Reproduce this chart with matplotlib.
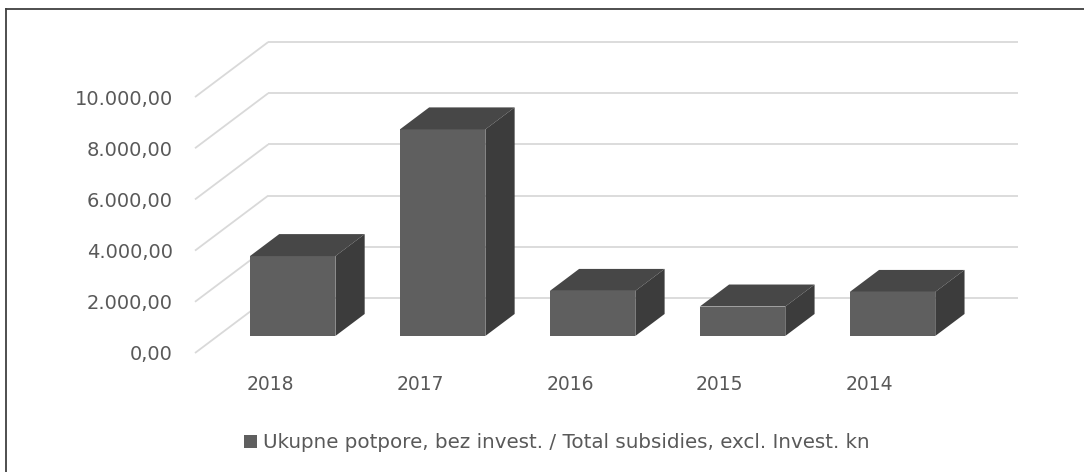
import numpy as np
import matplotlib
matplotlib.use('Agg')
import matplotlib.pyplot as plt
from matplotlib.patches import Polygon, Patch
from matplotlib.lines import Line2D

# dados do grafico
godine = ['2018', '2017', '2016', '2015', '2014']
potpore = [3120, 8070, 1760, 1150, 1720]
y_ticks = [0, 2000, 4000, 6000, 8000, 10000]
legenda = 'Ukupne potpore, bez invest. / Total subsidies, excl. Invest. kn'

# cores e "profundidade" do efeito 3d
cor_frente = '#5f5f5f'
cor_topo = '#474747'
cor_lado = '#3c3c3c'
cor_grid = '#d9d9d9'
cor_texto = '#595959'

DX = 0.488   # deslocamento da parede do fundo em categorias
DY = 2148    # deslocamento da parede do fundo em valores
d0, d1 = 0.31, 0.71   # posicao da barra dentro da profundidade
largura = 0.57

plt.rcParams['font.family'] = 'DejaVu Sans'


def fmt_hr(v):
    # 10000 -> 10.000,00
    s = f'{v:,.2f}'
    return s.replace(',', 'X').replace('.', ',').replace('X', '.')


def paredes(ax, n):
    # linhas do fundo e diagonais da parede lateral
    for v in y_ticks:
        ax.plot([-0.5, -0.5 + DX], [v, v + DY], color=cor_grid, lw=1.3, zorder=1,
                solid_capstyle='butt', clip_on=False)
        ax.plot([-0.5 + DX, n - 0.5 + DX], [v + DY, v + DY], color=cor_grid, lw=1.3,
                zorder=1, solid_capstyle='butt', clip_on=False)


def barras_3d(ax, x, valores):
    base = d0 * DY
    xf = x + d0 * DX
    ax.bar(xf, valores, width=largura, bottom=base, color=cor_frente, zorder=3)
    dd = d1 - d0
    for xi, v in zip(xf, valores):
        l = xi - largura / 2
        r = xi + largura / 2
        top = base + v
        topo = [(l, top), (r, top), (r + dd * DX, top + dd * DY), (l + dd * DX, top + dd * DY)]
        lado = [(r, base), (r, top), (r + dd * DX, top + dd * DY), (r + dd * DX, base + dd * DY)]
        ax.add_patch(Polygon(topo, closed=True, facecolor=cor_topo, edgecolor='none', zorder=3))
        ax.add_patch(Polygon(lado, closed=True, facecolor=cor_lado, edgecolor='none', zorder=3))


def main():
    fig = plt.figure(figsize=(10.84, 4.72), dpi=100)
    W, H = 1084, 472
    ax = fig.add_axes([195 / W, (H - 353) / H, (1018 - 195) / W, (353 - 42) / H])

    n = len(godine)
    x = np.arange(n)
    paredes(ax, n)
    barras_3d(ax, x, potpore)

    ax.set_xlim(-0.5, n - 0.5 + DX)
    ax.set_ylim(0, 12150)
    for s in ax.spines.values():
        s.set_visible(False)

    ax.set_yticks(y_ticks)
    ax.set_yticklabels([fmt_hr(v) for v in y_ticks])
    ax.set_xticks(x)
    ax.set_xticklabels(godine)
    ax.tick_params(axis='y', length=0, pad=16, labelsize=14, labelcolor=cor_texto)
    ax.tick_params(axis='x', length=0, pad=16, labelsize=13.5, labelcolor=cor_texto)

    fig.legend(handles=[Patch(facecolor=cor_frente, label=legenda)], loc='center left',
               bbox_to_anchor=(244 / W, 1 - 443 / H), frameon=False, fontsize=14.3,
               handlelength=0.66, handleheight=0.66, handletextpad=0.3,
               borderpad=0, borderaxespad=0, labelcolor=cor_texto)

    # moldura (so em cima e a esquerda)
    fig.add_artist(Line2D([6 / W, 1], [1 - 9 / H, 1 - 9 / H], color='#404040', lw=1.3))
    fig.add_artist(Line2D([6 / W, 6 / W], [0, 1 - 9 / H], color='#404040', lw=1.3))

    fig.savefig('out.png', dpi=100)


main()
